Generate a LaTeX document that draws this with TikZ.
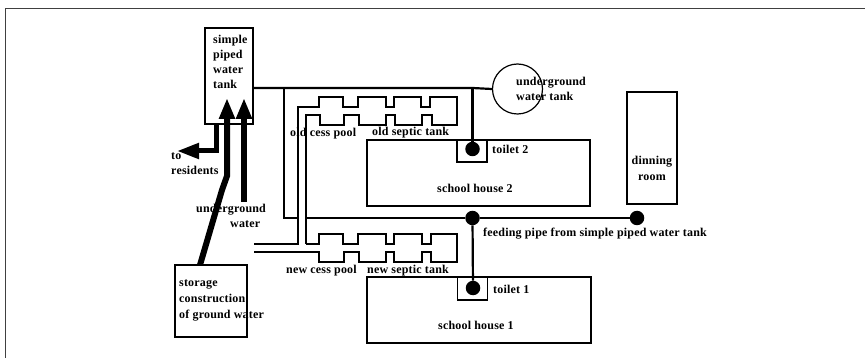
\documentclass[tikz,border=0pt]{standalone}
\usepackage{fontspec}
\setmainfont[LetterSpace=1.6]{Liberation Serif}
\usetikzlibrary{arrows.meta}

\tikzset{
	wall/.style={shape=rectangle, draw, line width=1.2pt, inner sep=0pt},
	pipe/.style={line width=2.2pt},
	thinpipe/.style={line width=1.2pt},
	fatarrow/.style={line width=6pt, -{Triangle[width=15pt, length=21pt]}},
	joint/.style={shape=circle, fill, inner sep=0pt, minimum size=14.5pt},
	lbl/.style={anchor=base west, inner sep=0pt, font=\fontsize{12}{14}\selectfont\bfseries},
	lblc/.style={lbl, anchor=base}
}

\begin{document}
\begin{tikzpicture}[x=1pt, y=-1pt]
	\useasboundingbox (0, 0) rectangle (865, 358);
	% frame of the scan
	\coordinate (framea) at (5.5, 358);
	\coordinate (frameb) at (5.5, 9);
	\coordinate (framec) at (865, 9);
	\draw[line width=1pt, black!75] (framea) -- (frameb) -- (framec);

	% buildings and tanks
	\node[wall, minimum width=48pt, minimum height=96pt] (tank) at (229, 76){};
	\node[wall, minimum width=72pt, minimum height=72pt] (storage) at (211, 301){};
	\node[wall, circle, minimum size=50pt] (undertank) at (517.5, 89){};
	\node[wall, minimum width=50pt, minimum height=112pt] (dining) at (652, 148){};
	\node[wall, minimum width=223pt, minimum height=66pt] (house2) at (478.5, 173){};
	\node[wall, minimum width=224pt, minimum height=66pt] (house1) at (479, 310){};
	\node[wall, minimum width=30pt, minimum height=22pt] (toilet2) at (472, 151){};
	\node[wall, minimum width=30pt, minimum height=23pt] (toilet1) at (472.5, 288.5){};

	% joints of the feeding pipe
	\node[joint] (dot2) at (472.5, 149){};
	\node[joint] (dot1) at (473, 288){};
	\node[joint] (dotmid) at (472.5, 218){};
	\node[joint] (dotend) at (637, 218){};

	% feeding pipes
	\coordinate (maina) at (284, 88);
	\coordinate (mainb) at (284, 218);
	\coordinate (mainc) at (298, 218);
	\coordinate (maind) at (306, 218);
	\coordinate (maine) at (472.5, 88);
	\draw[pipe] (tank.east |- maina) -- (maine) -- (undertank.west);
	\draw[pipe] (maina) -- (mainb) -- (mainc);
	\draw[pipe] (maind) -- (dotmid) -- (dotend);
	\draw[pipe] (maine) -- (dot2);
	\draw[pipe] (dotmid) -- (dot1);

	% old pool and tank
	\coordinate (sewera) at (254, 244);
	\coordinate (sewerb) at (306, 244);
	\draw[thinpipe] (sewera) -| (298, 107) -| (319, 97) -| (343, 107) -| (358, 97) -| (386, 107) -| (394, 97) -| (421, 107) -| (430, 97) -| (457, 125)
		-| (432, 115) -| (422, 125) -| (395, 115) -| (386, 125) -| (359, 115) -| (344, 125) -| (320, 115) -| (306, 244) -- (sewerb);
	% new pool and tank
	\coordinate (sewerc) at (254, 252);
	\draw[thinpipe] (sewerb) -| (319, 234) -| (343, 244) -| (358, 234) -| (386, 244) -| (394, 234) -| (422, 244) -| (431, 234) -| (457, 262)
		-| (431, 252) -| (422, 262) -| (394, 252) -| (386, 262) -| (359, 252) -| (344, 262) -| (319, 252) -- (sewerc);

	% labels
	\node[lbl] (tanktxta) at (213, 44){simple};
	\node[lbl] (tanktxtb) at (213, 59){piped};
	\node[lbl] (tanktxtc) at (213, 74){water};
	\node[lbl] (tanktxtd) at (213, 89){tank};
	\node[lbl] (residentsa) at (171, 160){to};
	\node[lbl] (residentsb) at (171, 175){residents};
	\node[lbl] (grounda) at (196, 213){underground};
	\node[lbl] (groundb) at (230, 228){water};
	\node[lbl] (oldcess) at (290, 137){old cess pool};
	\node[lbl] (oldseptic) at (372, 136){old septic tank};
	\node[lbl] (newcess) at (286, 273){new cess pool};
	\node[lbl] (newseptic) at (367, 273){new septic tank};
	\node[lbl] (undertxta) at (516, 86){underground};
	\node[lbl] (undertxtb) at (516, 101){water tank};
	\node[lbl] (toilettxt2) at (492, 154){toilet 2};
	\node[lbl] (toilettxt1) at (493, 293){toilet 1};
	\node[lbl] (housetxt2) at (437, 193){school house 2};
	\node[lbl] (housetxt1) at (438, 329){school house 1};
	\node[lblc] (diningtxta) at (652, 165){dinning};
	\node[lblc] (diningtxtb) at (652, 181){room};
	\node[lbl] (feeding) at (483, 237){feeding pipe from simple piped water tank};
	\node[lbl] (storagetxta) at (179, 287){storage};
	\node[lbl] (storagetxtb) at (179, 302){construction};
	\node[lbl] (storagetxtc) at (179, 318){of ground water};

	% thick arrows
	\coordinate (outa) at (216, 124);
	\coordinate (outb) at (216, 151);
	\coordinate (outc) at (177, 151);
	\coordinate (upa) at (200, 265);
	\coordinate (upb) at (222, 190);
	\coordinate (upc) at (227, 176);
	\coordinate (upd) at (227, 98);
	\coordinate (upe) at (244, 202);
	\coordinate (upf) at (244, 98);
	\draw[line width=5pt, -{Triangle[width=15pt, length=22pt]}] (outa) -- (outb) -- (outc);
	\draw[fatarrow] (upa) -- (upb) -- (upc) -- (upd);
	\draw[fatarrow] (upe) -- (upf);
\end{tikzpicture}
\end{document}
